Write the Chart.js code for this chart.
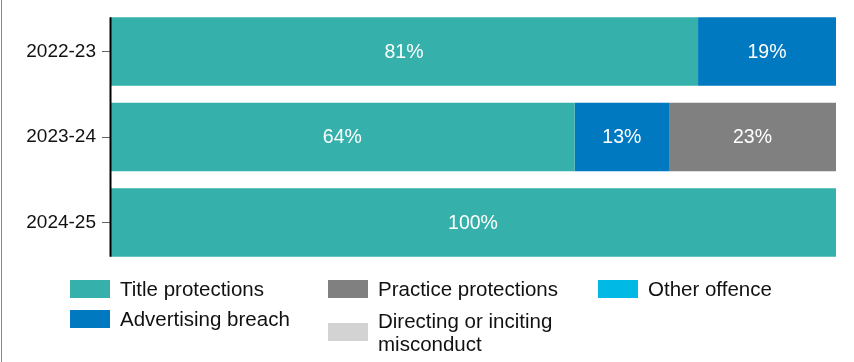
<!DOCTYPE html>
<html lang="en">
<head>
    <meta charset="UTF-8">
    <title>Offences by type</title>
    <script src="https://cdn.jsdelivr.net/npm/chart.js@4.4.1/dist/chart.umd.min.js"></script>
    <style>
        html, body { margin: 0; padding: 0; background: #fff; }
        #wrap { position: relative; width: 854px; height: 362px; overflow: hidden; }
        #edge { position: absolute; left: 1px; top: 0; width: 1px; height: 362px; background: #8a8a8a; }
        #legend { position: absolute; left: 0; top: 0; width: 854px; height: 362px; pointer-events: none;
                  font-family: "Liberation Sans", Arial, sans-serif; font-size: 20.5px; color: #111; }
        .item { position: absolute; display: flex; align-items: center; }
        .box { width: 40px; height: 18px; margin-right: 10px; flex: none; }
        .txt { line-height: 23px; }
    </style>
</head>
<body>
    <div id="wrap">
        <canvas id="myChart" width="854" height="362"></canvas>
        <div id="edge"></div>
        <div id="legend"></div>
    </div>
    <script>
        // years shown on the axis
        const years = ['2022-23', '2023-24', '2024-25'];

        // share of offences (%) per year
        const titleProtections = [81, 64, 100];
        const advertisingBreach = [19, 13, 0];
        const practiceProtections = [0, 23, 0];
        const directingMisconduct = [0, 0, 0];
        const otherOffence = [0, 0, 0];

        const seriesNames = ['Title protections', 'Advertising breach', 'Practice protections',
                             'Directing or inciting misconduct', 'Other offence'];
        const seriesColours = ['#35b0aa', '#0079c1', '#808080', '#d3d3d3', '#00b9e4'];

        const allSeries = [titleProtections, advertisingBreach, practiceProtections, directingMisconduct, otherOffence];

        // white percentage text in the middle of each bar
        const barLabels = {
            id: 'barLabels',
            afterDatasetsDraw(chart) {
                const ctx = chart.ctx;
                ctx.save();
                ctx.font = '19.5px "Liberation Sans", Arial, sans-serif';
                ctx.fillStyle = '#ffffff';
                ctx.textAlign = 'center';
                ctx.textBaseline = 'middle';
                chart.data.datasets.forEach((ds, i) => {
                    chart.getDatasetMeta(i).data.forEach((bar, j) => {
                        if (!ds.data[j]) return;
                        ctx.fillText(ds.data[j] + '%', (bar.x + bar.base) / 2, bar.y + 1);
                    });
                });
                ctx.restore();
            }
        };

        // y axis line only spans the bars
        const axisLine = {
            id: 'axisLine',
            afterDatasetsDraw(chart) {
                const meta = chart.getDatasetMeta(0);
                const first = meta.data[0], last = meta.data[meta.data.length - 1];
                const ctx = chart.ctx;
                ctx.save();
                ctx.strokeStyle = '#000';
                ctx.lineWidth = 2;
                ctx.beginPath();
                ctx.moveTo(chart.chartArea.left + 0.5, first.y - first.height / 2);
                ctx.lineTo(chart.chartArea.left + 0.5, last.y + last.height / 2);
                ctx.stroke();
                ctx.restore();
            }
        };

        const ctx = document.getElementById('myChart').getContext('2d');
        new Chart(ctx, {
            type: 'bar',
            data: {
                labels: years,
                datasets: allSeries.map((values, i) => ({
                    label: seriesNames[i],
                    data: values,
                    backgroundColor: seriesColours[i],
                    borderWidth: 0,
                    categoryPercentage: 1,
                    barPercentage: 0.8
                }))
            },
            options: {
                indexAxis: 'y',
                responsive: false,
                animation: false,
                layout: { padding: { top: 8.75, right: 18, bottom: 96.75, left: 0 } },
                plugins: {
                    legend: { display: false },
                    tooltip: { enabled: false }
                },
                scales: {
                    x: { stacked: true, min: 0, max: 100, display: false },
                    y: {
                        stacked: true,
                        border: { display: false },
                        grid: { offset: false, drawOnChartArea: false, tickLength: 8, color: '#666', lineWidth: 1 },
                        ticks: { color: '#111', padding: 6, font: { family: '"Liberation Sans", Arial, sans-serif', size: 19 } },
                        afterFit(scale) {
                            scale.width = 110;
                            scale.paddingTop = 0;
                            scale.paddingBottom = 0;
                        }
                    }
                }
            },
            plugins: [barLabels, axisLine]
        });

        // legend laid out in three columns, two rows
        const legendSpots = [[70, 279], [70, 309], [328, 279], [328, 311], [598, 279]];
        const legend = document.getElementById('legend');
        seriesNames.forEach((name, i) => {
            const item = document.createElement('div');
            item.className = 'item';
            item.style.left = legendSpots[i][0] + 'px';
            item.style.top = legendSpots[i][1] - 2 + 'px';
            const box = document.createElement('div');
            box.className = 'box';
            box.style.background = seriesColours[i];
            const txt = document.createElement('div');
            txt.className = 'txt';
            txt.innerHTML = name === 'Directing or inciting misconduct' ? 'Directing or inciting<br>misconduct' : name;
            item.appendChild(box);
            item.appendChild(txt);
            legend.appendChild(item);
        });
    </script>
</body>
</html>
